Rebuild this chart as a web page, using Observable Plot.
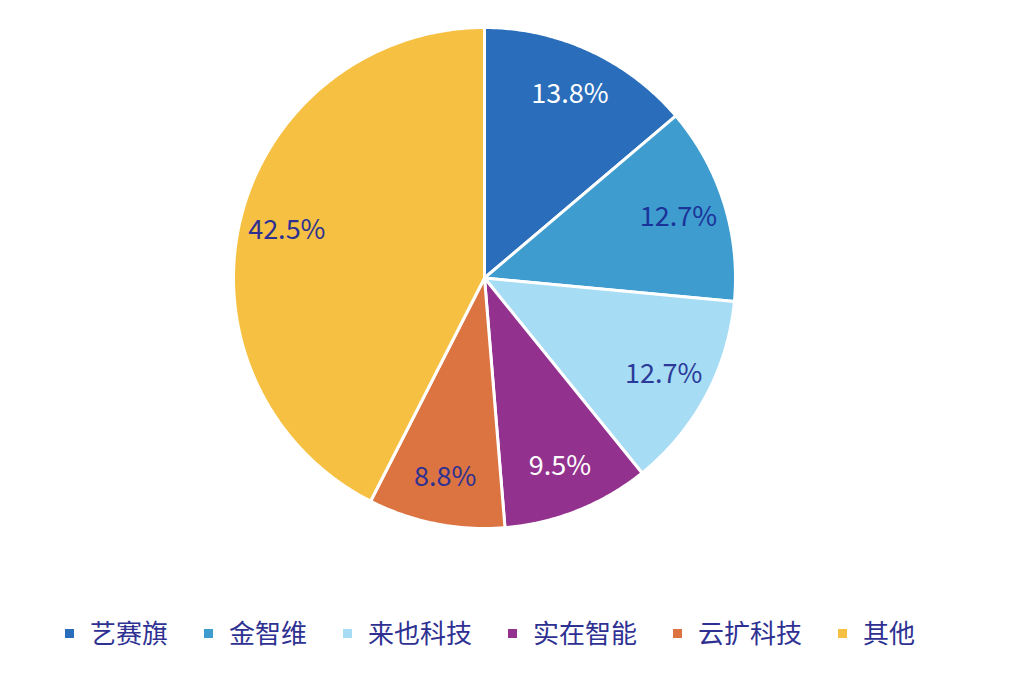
<!DOCTYPE html>
<html>
<head>
<meta charset="utf-8">
<script src="https://cdn.jsdelivr.net/npm/d3@7"></script>
<script src="https://cdn.jsdelivr.net/npm/@observablehq/plot@0.6"></script>
<style>
  body { margin: 0; background: #fff; font-family: "Noto Sans CJK SC", "Noto Sans", sans-serif; }
  #legend { display: flex; align-items: center; padding-left: 65px; height: 44px; line-height: 44px; }
  .item { display: flex; align-items: center; margin-right: 36px; font-size: 26px; color: #2e3192; }
  .sw { width: 9px; height: 9px; margin-right: 16px; margin-top: 3px; }
</style>
</head>
<body>
<div id="chart"></div>
<div id="legend"></div>
<script>
const categories = ["艺赛旗", "金智维", "来也科技", "实在智能", "云扩科技", "其他"];
const shares = [13.8, 12.7, 12.7, 9.5, 8.8, 42.5];
const labels = ["13.8%", "12.7%", "12.7%", "9.5%", "8.8%", "42.5%"];

const colors = ["#2a6ebb", "#3f9ccf", "#a6dcf4", "#93328e", "#db7441", "#f6c142"];
const labelInk = ["#ffffff", "#1a3399", "#2b3a99", "#ffffff", "#2e3192", "#2e3192"];

const total = d3.sum(shares);
const slices = [];
const wedgePoints = [];
let acc = 0;
shares.forEach((v, i) => {
  const a0 = acc / total * 2 * Math.PI;
  acc += v;
  const a1 = acc / total * 2 * Math.PI;
  slices.push({cat: categories[i], label: labels[i], a0, a1, mid: (a0 + a1) / 2, i});
  wedgePoints.push({cat: categories[i], x: 0, y: 0});
  const n = Math.max(2, Math.ceil((a1 - a0) / (Math.PI / 360)));
  for (let k = 0; k <= n; k++) {
    const a = a0 + (a1 - a0) * k / n;
    wedgePoints.push({cat: categories[i], x: Math.sin(a), y: Math.cos(a)});
  }
});

const labelR = 0.81;
const chart = Plot.plot({
  width: 1028,
  height: 610,
  marginLeft: 233,
  marginRight: 293,
  marginTop: 27,
  marginBottom: 82,
  x: {domain: [-1, 1], axis: null},
  y: {domain: [-1, 1], axis: null},
  color: {domain: categories, range: colors},
  marks: [
    Plot.line(wedgePoints, {x: "x", y: "y", z: "cat", fill: "cat", stroke: "#ffffff", strokeWidth: 3, curve: "linear-closed", strokeLinejoin: "round"}),
    Plot.text(slices, {
      x: d => labelR * Math.sin(d.mid),
      y: d => labelR * Math.cos(d.mid),
      text: "label",
      fill: d => labelInk[d.i],
      fontSize: 27,
      fontFamily: "Noto Sans CJK SC"
    })
  ]
});
document.getElementById("chart").appendChild(chart);

const lg = d3.select("#legend");
categories.forEach((c, i) => {
  const it = lg.append("div").attr("class", "item");
  it.append("div").attr("class", "sw").style("background", colors[i]);
  it.append("span").text(c);
});
</script>
</body>
</html>
